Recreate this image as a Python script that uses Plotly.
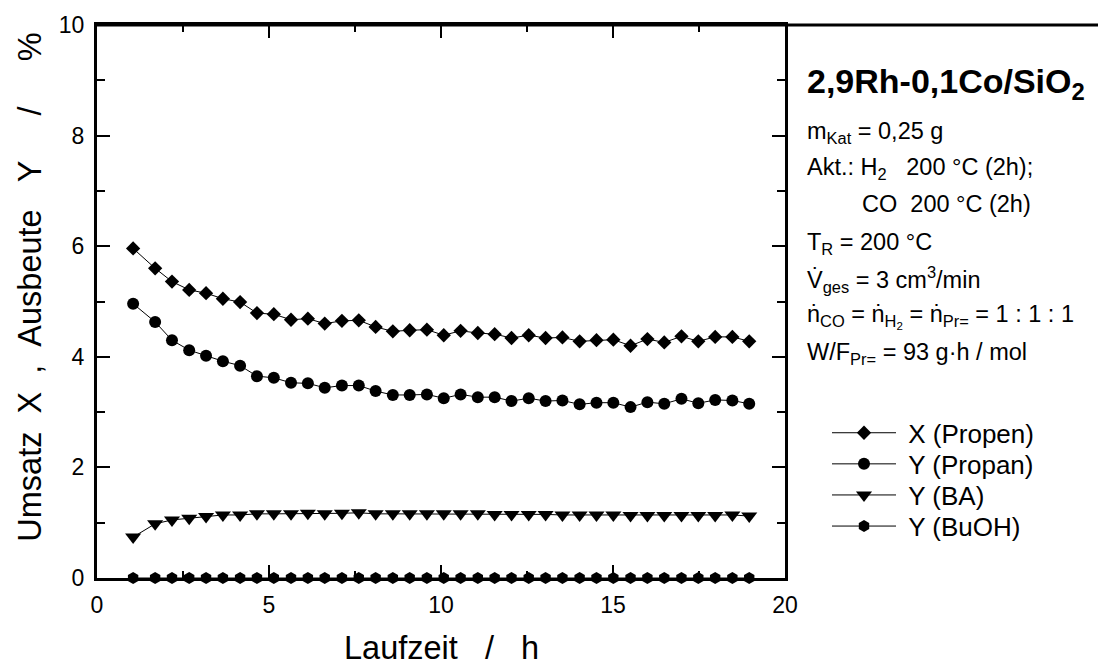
import plotly.graph_objects as go

# ---- data ----
time_h = [1.05, 1.69, 2.18, 2.68, 3.17, 3.66, 4.16, 4.65, 5.14, 5.64, 6.13, 6.62,
          7.12, 7.61, 8.10, 8.60, 9.09, 9.59, 10.08, 10.57, 11.07, 11.56, 12.05,
          12.55, 13.04, 13.53, 14.03, 14.52, 15.01, 15.51, 16.00, 16.49, 16.99,
          17.48, 17.97, 18.47, 18.96]

x_propen = [5.96, 5.60, 5.36, 5.21, 5.15, 5.05, 4.99, 4.79, 4.77, 4.67, 4.69, 4.60,
            4.65, 4.66, 4.54, 4.46, 4.48, 4.49, 4.39, 4.47, 4.43, 4.41, 4.34,
            4.39, 4.34, 4.35, 4.28, 4.30, 4.31, 4.20, 4.32, 4.26, 4.37, 4.28,
            4.36, 4.36, 4.28]

y_propan = [4.96, 4.63, 4.30, 4.12, 4.02, 3.92, 3.84, 3.65, 3.62, 3.53, 3.52, 3.44,
            3.48, 3.48, 3.38, 3.31, 3.31, 3.32, 3.25, 3.32, 3.27, 3.27, 3.20,
            3.25, 3.20, 3.21, 3.14, 3.17, 3.17, 3.09, 3.18, 3.15, 3.24, 3.16,
            3.22, 3.21, 3.15]

y_ba = [0.74, 0.98, 1.05, 1.08, 1.11, 1.14, 1.14, 1.16, 1.16, 1.16, 1.17, 1.16,
        1.17, 1.18, 1.16, 1.16, 1.16, 1.16, 1.16, 1.16, 1.16, 1.15, 1.15,
        1.15, 1.15, 1.14, 1.14, 1.14, 1.14, 1.13, 1.13, 1.13, 1.13, 1.13,
        1.13, 1.14, 1.12]

y_buoh = [0.00] * 37

series_names = ["X (Propen)", "Y (Propan)", "Y (BA)", "Y (BuOH)"]

# ---- figure ----
FONT = "Liberation Sans, Arial, sans-serif"
W, H = 1098, 666
L, R, T, B = 97, 313, 18, 88
PW, PH = W - L - R, H - T - B


def px_x(px):
    return (px - L) / PW


def px_y(py):
    return (H - B - py) / PH


fig = go.Figure()
specs = [
    (x_propen, "diamond", 11),
    (y_propan, "circle", 12),
    (y_ba, "triangle-down", 14),
    (y_buoh, "hexagon", 12),
]
legend_ids = ["legend", "legend2", "legend3", "legend4"]
legend_rows = [431, 462.5, 494, 525.5]
nb = "\u00a0"
for (vals, sym, sz), name, lid in zip(specs, series_names, legend_ids):
    fig.add_trace(go.Scatter(
        x=time_h, y=vals, name=nb + name, mode="lines+markers",
        line=dict(color="black", width=1),
        marker=dict(symbol=sym, size=sz, color="black", line=dict(width=0)),
        legend=lid, cliponaxis=False,
    ))

axis_common = dict(
    showline=True, linecolor="black", linewidth=3, mirror="ticks",
    ticks="inside", tickcolor="black", tickwidth=2, ticklen=13,
    showgrid=False, zeroline=False,
    tickfont=dict(family=FONT, size=23, color="black"),
)

fig.update_xaxes(range=[0, 20], dtick=5, tick0=0,
                 minor=dict(dtick=2.5, ticks="inside", ticklen=7, tickwidth=2, tickcolor="black"),
                 ticklabelstandoff=4, **axis_common)
fig.update_yaxes(range=[0, 10], dtick=2, tick0=0,
                 minor=dict(dtick=1, ticks="inside", ticklen=8, tickwidth=2, tickcolor="black"),
                 ticklabelstandoff=5, **axis_common)

annotations = [
    dict(text=f"Umsatz{nb*2}X{nb*2},{nb*2}Ausbeute{nb*3}Y{nb*5}/{nb*5}%",
         x=px_x(30), y=px_y(284), textangle=-90, font=dict(size=32.5)),
    dict(text=f"Laufzeit{nb*3}/{nb*3}h", x=0.5, y=px_y(649), font=dict(size=32.5)),
    dict(text="<b>2,9Rh-0,1Co/SiO<sub>2</sub></b>", x=px_x(805), y=px_y(77),
         xanchor="left", font=dict(size=34)),
    dict(text="m<sub>Kat</sub> = 0,25 g", x=px_x(805), y=px_y(127), xanchor="left"),
    dict(text=f"Akt.: H<sub>2</sub>{nb*3}200 °C (2h);", x=px_x(805), y=px_y(163), xanchor="left"),
    dict(text=f"CO{nb}{nb}200 °C (2h)", x=px_x(860), y=px_y(199), xanchor="left"),
    dict(text="T<sub>R</sub> = 200 °C", x=px_x(805), y=px_y(239), xanchor="left"),
    dict(text="V\u0307<sub>ges</sub> = 3 cm<sup>3</sup>/min", x=px_x(805), y=px_y(276), xanchor="left"),
    dict(text="\u1e45<sub>CO</sub> = \u1e45<sub>H<sub>2</sub></sub> = \u1e45<sub>Pr=</sub> = 1 : 1 : 1",
         x=px_x(805), y=px_y(313), xanchor="left"),
    dict(text="W/F<sub>Pr=</sub> = 93 g·h / mol", x=px_x(805), y=px_y(351), xanchor="left"),
]
for a in annotations:
    a.setdefault("font", {})
    a["font"].setdefault("size", 23.5)
    a["font"]["family"] = FONT
    a["font"]["color"] = "black"
    a.update(xref="paper", yref="paper", showarrow=False)
    a.setdefault("xanchor", "center")
    a.setdefault("yanchor", "middle")

legend_layout = {}
for lid, row in zip(legend_ids, legend_rows):
    legend_layout[lid] = dict(
        x=px_x(827), y=px_y(row), xanchor="left", yanchor="middle",
        font=dict(family=FONT, size=26, color="black"),
        itemwidth=64, bgcolor="rgba(0,0,0,0)",
    )

fig.update_layout(
    width=W, height=H,
    margin=dict(l=L, r=R, t=T, b=B, pad=0),
    paper_bgcolor="white", plot_bgcolor="white",
    font=dict(family=FONT, color="black"),
    annotations=annotations,
    showlegend=True,
    shapes=[dict(type="line", xref="paper", yref="paper",
                 x0=0, x1=px_x(W + 5), y0=1, y1=1,
                 line=dict(color="black", width=3))],
    **legend_layout,
)

fig.write_html("out.html")
